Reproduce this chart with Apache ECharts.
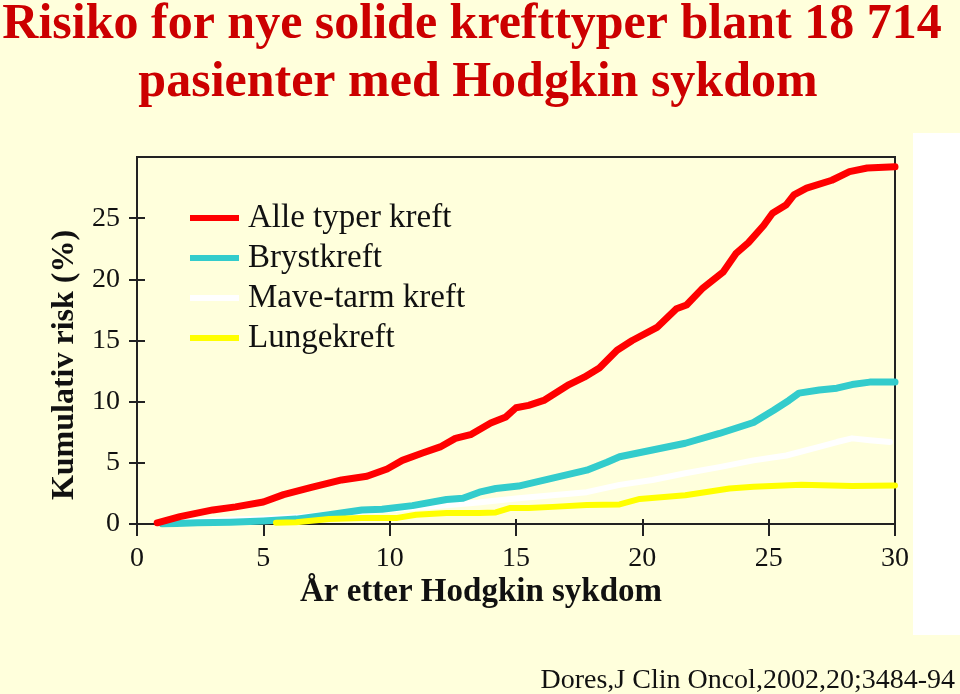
<!DOCTYPE html>
<html>
<head>
<meta charset="utf-8">
<script src="https://cdn.jsdelivr.net/npm/echarts@6/dist/echarts.min.js"></script>
<style>
html,body{margin:0;padding:0;background:#FFFFDC;}
#chart{width:960px;height:694px;}
</style>
</head>
<body>
<div id="chart"></div>
<script>
// ---- Data (years after Hodgkin disease, cumulative risk %) ----
const seriesNames = ['Alle typer kreft', 'Brystkreft', 'Mave-tarm kreft', 'Lungekreft'];
const xTickValues = [0, 5, 10, 15, 20, 25, 30];
const yTickValues = [0, 5, 10, 15, 20, 25];

const alleTyper = [[0.8,0.1],[1.7,0.6],[3.0,1.15],[3.9,1.4],[5.0,1.8],[5.8,2.4],[6.9,3.0],[8.1,3.6],[9.1,3.9],[9.9,4.5],[10.5,5.2],[11.3,5.8],[12.0,6.3],[12.6,7.0],[13.2,7.3],[14.0,8.25],[14.6,8.75],[15.0,9.5],[15.5,9.7],[16.1,10.1],[17.1,11.4],[17.7,12.0],[18.3,12.75],[19.0,14.2],[19.6,15.0],[20.6,16.1],[21.35,17.6],[21.75,17.9],[22.4,19.3],[23.2,20.6],[23.7,22.1],[24.2,23.0],[24.8,24.4],[25.15,25.4],[25.7,26.1],[26.0,26.9],[26.5,27.45],[27.5,28.1],[28.2,28.8],[28.9,29.1],[30.0,29.2]];
const brystkreft = [[1.0,0],[2.4,0.1],[3.7,0.15],[5.0,0.25],[6.3,0.4],[7.6,0.75],[8.9,1.15],[9.7,1.2],[10.9,1.5],[12.25,2.0],[12.9,2.1],[13.55,2.6],[14.2,2.9],[15.1,3.1],[16.45,3.75],[17.8,4.4],[18.6,5.05],[19.1,5.5],[20.4,6.05],[21.7,6.6],[23.05,7.4],[24.4,8.3],[25.2,9.3],[25.8,10.1],[26.2,10.7],[27.0,10.95],[27.7,11.1],[28.3,11.4],[29.0,11.6],[30.0,11.6]];
const maveTarm = [[1.2,0.15],[3.0,0.3],[5.0,0.45],[6.5,0.6],[8.0,0.85],[9.0,1.05],[10.5,1.25],[12.0,1.5],[13.5,1.75],[15.1,2.1],[16.45,2.35],[17.8,2.6],[19.1,3.2],[20.4,3.6],[21.7,4.15],[23.05,4.65],[24.4,5.2],[25.7,5.6],[27.0,6.3],[27.7,6.7],[28.3,7.0],[29.0,6.85],[29.8,6.7]];
const lungekreft = [[5.5,0.1],[6.3,0.15],[7.6,0.4],[8.9,0.5],[10.3,0.5],[11.05,0.75],[12.25,0.9],[13.55,0.9],[14.2,0.95],[14.75,1.3],[15.5,1.3],[16.45,1.4],[17.8,1.55],[19.1,1.6],[19.9,2.05],[21.7,2.35],[23.45,2.9],[24.4,3.05],[26.3,3.2],[28.3,3.1],[30.0,3.15]];

const FONT = "'Liberation Serif','Times New Roman',serif";
const AX = '#222';

const chart = echarts.init(document.getElementById('chart'), null, {renderer:'canvas'});

function lineSeries(name, data, color, width, z) {
  return {
    name, type:'line', data, showSymbol:false, symbol:'none', z,
    lineStyle:{color, width, cap:'round', join:'round'},
    itemStyle:{color},
    animation:false
  };
}

const option = {
  backgroundColor:'#FFFFDC',
  animation:false,
  grid:{left:137, right:65, top:157, bottom:170, show:true, borderColor:AX, borderWidth:2, backgroundColor:'transparent'},
  legend:{
    data: seriesNames,
    orient:'vertical', left:185, top:193,
    icon:'rect', itemWidth:49, itemHeight:6, itemGap:0,
    textStyle:{fontFamily:FONT, fontSize:33, color:'#111', lineHeight:40, padding:[0,0,0,4]},
    selectedMode:false
  },
  xAxis:[
    {type:'value', min:0, max:30, interval:5,
     axisLine:{lineStyle:{color:AX, width:2}},
     axisTick:{length:12, lineStyle:{color:AX, width:2}},
     axisLabel:{fontFamily:FONT, fontSize:28, color:'#111', margin:21, customValues:xTickValues},
     splitLine:{show:false}},
    {type:'value', min:0, max:30, interval:5, position:'bottom',
     axisLine:{show:false},
     axisTick:{inside:true, length:5, lineStyle:{color:AX, width:2}},
     axisLabel:{show:false}, splitLine:{show:false}}
  ],
  yAxis:[
    {type:'value', min:0, max:30, interval:5,
     axisLine:{show:true, lineStyle:{color:AX, width:2}},
     axisTick:{show:true, length:8, customValues:yTickValues, lineStyle:{color:AX, width:2}},
     axisLabel:{fontFamily:FONT, fontSize:28, color:'#111', margin:17, customValues:yTickValues},
     splitLine:{show:false}},
    {type:'value', min:0, max:30, interval:5, position:'left',
     axisLine:{show:false},
     axisTick:{show:true, inside:true, length:8, customValues:yTickValues, lineStyle:{color:AX, width:2}},
     axisLabel:{show:false}, splitLine:{show:false}}
  ],
  series:[
    lineSeries(seriesNames[0], alleTyper, '#FF0000', 7, 5),
    lineSeries(seriesNames[1], brystkreft, '#33CCCC', 7, 3),
    lineSeries(seriesNames[2], maveTarm, '#FFFFFF', 6, 2),
    lineSeries(seriesNames[3], lungekreft, '#FFFF00', 6, 4)
  ],
  graphic:[
    {type:'rect', left:913, top:133, shape:{width:47, height:502}, style:{fill:'#FFFFFF'}, z:-1},
    {type:'text', x:472, y:0, style:{text:'Risiko for nye solide krefttyper blant 18 714', font:"bold 50px 'Liberation Serif','Times New Roman',serif", fill:'#CC0000', textAlign:'center', textVerticalAlign:'top'}},
    {type:'text', x:478, y:58, style:{text:'pasienter med Hodgkin sykdom', font:"bold 50px 'Liberation Serif','Times New Roman',serif", fill:'#CC0000', textAlign:'center', textVerticalAlign:'top'}},
    {type:'text', x:65, y:365, rotation:Math.PI/2, style:{text:'Kumulativ risk (%)', font:"bold 32px 'Liberation Serif','Times New Roman',serif", fill:'#111', textAlign:'center', textVerticalAlign:'middle'}},
    {type:'text', x:481, y:592, style:{text:'År etter Hodgkin sykdom', font:"bold 33px 'Liberation Serif','Times New Roman',serif", fill:'#111', textAlign:'center', textVerticalAlign:'middle'}},
    {type:'text', x:955, y:681, style:{text:'Dores,J Clin Oncol,2002,20;3484-94', font:"28px 'Liberation Serif','Times New Roman',serif", fill:'#111', textAlign:'right', textVerticalAlign:'middle'}}
  ]
};
chart.setOption(option);
</script>
</body>
</html>
